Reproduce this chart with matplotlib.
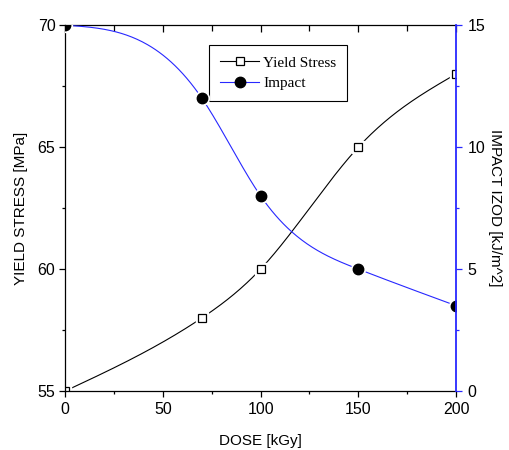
import matplotlib
matplotlib.use("Agg")
import matplotlib.pyplot as plt
import numpy as np
from matplotlib.ticker import MultipleLocator

# values
dose = [0, 70, 100, 150, 200]
yield_stress = [55, 58, 60, 65, 68]
impact = [15, 12, 8, 5, 3.5]

BLUE = "#2828ff"


def natural_spline(x, y, n=300):
    # smooth connecting curve through the measured points (Origin-style spline line)
    x = np.asarray(x, float)
    y = np.asarray(y, float)
    m = len(x)
    h = np.diff(x)
    A = np.zeros((m, m))
    b = np.zeros(m)
    A[0, 0] = A[-1, -1] = 1
    for i in range(1, m - 1):
        A[i, i - 1] = h[i - 1]
        A[i, i] = 2 * (h[i - 1] + h[i])
        A[i, i + 1] = h[i]
        b[i] = 6 * ((y[i + 1] - y[i]) / h[i] - (y[i] - y[i - 1]) / h[i - 1])
    M = np.linalg.solve(A, b)
    xs = np.linspace(x[0], x[-1], n)
    idx = np.clip(np.searchsorted(x, xs) - 1, 0, m - 2)
    x0, x1 = x[idx], x[idx + 1]
    hh = x1 - x0
    ys = (M[idx] * (x1 - xs) ** 3 / (6 * hh) + M[idx + 1] * (xs - x0) ** 3 / (6 * hh)
          + (y[idx] / hh - M[idx] * hh / 6) * (x1 - xs)
          + (y[idx + 1] / hh - M[idx + 1] * hh / 6) * (xs - x0))
    return xs, ys


plt.rcParams['font.family'] = ['Liberation Sans', 'DejaVu Sans']
plt.rcParams['font.size'] = 11

fig = plt.figure(figsize=(5.09, 4.5), dpi=100)
ax = fig.add_axes([0.128, 0.131, 0.768, 0.813])
ax2 = ax.twinx()

# yield stress (left axis)
xs, ys = natural_spline(dose, yield_stress)
ax.plot(xs, ys, color='black', lw=0.8, zorder=2)
halo = ax.plot(dose, yield_stress, ls='none', marker='s', ms=8, mfc='white', mec='white', zorder=2.1)[0]
mk = ax.plot(dose, yield_stress, ls='none', marker='s', ms=5.5, mfc='white', mec='black', mew=0.9, zorder=2.2)[0]
halo.set_clip_path(ax.patch)
mk.set_clip_path(ax.patch)

# impact (right axis)
xs, ys = natural_spline(dose, impact)
ax2.plot(xs, ys, color=BLUE, lw=0.8, zorder=2)
halo = ax2.plot(dose, impact, ls='none', marker='o', ms=10, mfc='white', mec='white', zorder=2.1)[0]
mk = ax2.plot(dose, impact, ls='none', marker='o', ms=7.5, mfc='black', mec='black', zorder=2.2)[0]
halo.set_clip_path(ax2.patch)
mk.set_clip_path(ax2.patch)

ax.set_xlim(0, 200)
ax.set_ylim(55, 70)
ax2.set_ylim(0, 15)

ax.xaxis.set_major_locator(MultipleLocator(50))
ax.xaxis.set_minor_locator(MultipleLocator(25))
ax.yaxis.set_major_locator(MultipleLocator(5))
ax.yaxis.set_minor_locator(MultipleLocator(2.5))
ax2.yaxis.set_major_locator(MultipleLocator(5))
ax2.yaxis.set_minor_locator(MultipleLocator(2.5))

ax.tick_params(axis='x', which='major', direction='out', length=4, width=0.9, labelsize=11.5, pad=4)
ax.tick_params(axis='y', which='major', direction='out', length=4, width=0.9, labelsize=11.5, pad=3)
ax.tick_params(axis='both', which='minor', direction='out', length=2.5, width=0.9)
ax2.tick_params(axis='y', which='major', direction='out', length=4.5, width=0.9, color=BLUE,
                labelsize=11.5, labelcolor='black', pad=4)
ax2.tick_params(axis='y', which='minor', direction='out', length=2.5, width=0.9, color=BLUE)

# top axis: ticks pointing in, no labels
top = ax.secondary_xaxis('top')
top.xaxis.set_major_locator(MultipleLocator(50))
top.xaxis.set_minor_locator(MultipleLocator(25))
top.tick_params(which='major', direction='in', length=5, width=0.9, labeltop=False)
top.tick_params(which='minor', direction='in', length=4, width=0.9)
top.spines['top'].set_linewidth(0.9)

for s in ['left', 'bottom']:
    ax.spines[s].set_linewidth(0.9)
ax.spines['right'].set_visible(False)
ax.spines['top'].set_visible(False)
for s in ['left', 'top', 'bottom']:
    ax2.spines[s].set_visible(False)
ax2.spines['right'].set_color(BLUE)
ax2.spines['right'].set_linewidth(1.3)

ax.set_xlabel('DOSE [kGy]', fontsize=11, labelpad=12)
ax.set_ylabel('YIELD STRESS [MPa]', fontsize=11, labelpad=7)
ax2.set_ylabel('IMPACT IZOD [kJ/m^2]', fontsize=11, rotation=-90, labelpad=12)

# legend
h1 = ax.plot([], [], color='black', lw=0.8, marker='s', ms=5.5, mfc='white', mec='black', mew=0.9)[0]
h2 = ax.plot([], [], color=BLUE, lw=0.8, marker='o', ms=7.5, mfc='black', mec='black')[0]
leg = ax.legend([h1, h2], ['Yield Stress', 'Impact'], loc='upper left',
                bbox_to_anchor=(0.368, 0.945), borderaxespad=0, fancybox=False, framealpha=1,
                edgecolor='black', handlelength=2.6, borderpad=0.7, labelspacing=0.45,
                handletextpad=0.25, prop={'family': 'Liberation Serif', 'size': 11})
leg.get_frame().set_linewidth(0.8)
leg.set_zorder(5)

fig.savefig('out.png', dpi=100)
